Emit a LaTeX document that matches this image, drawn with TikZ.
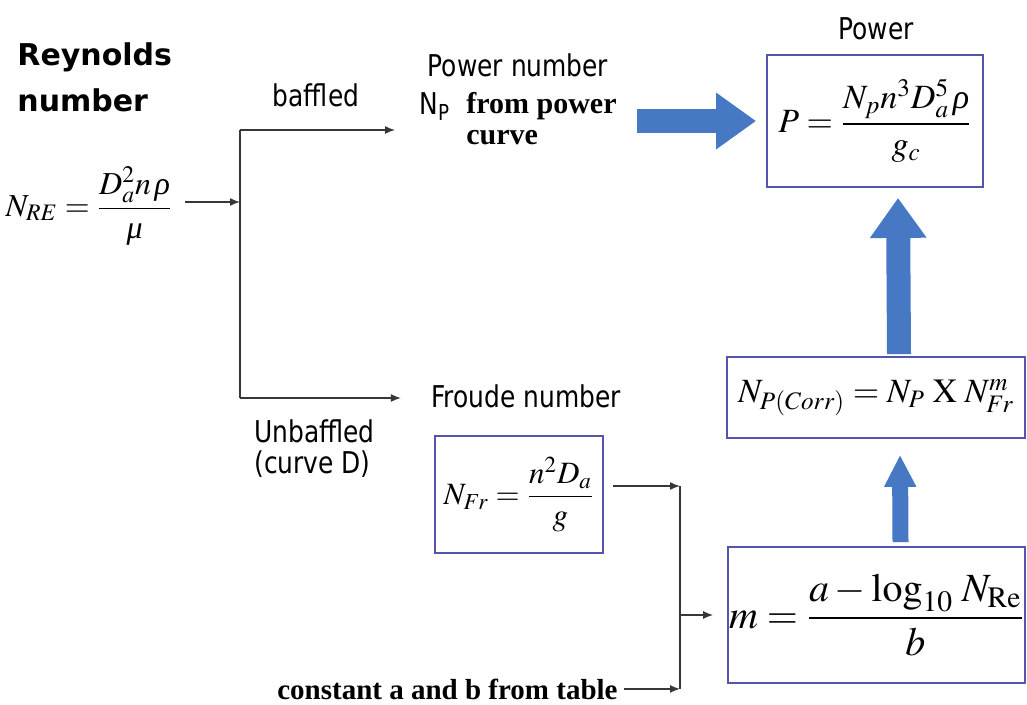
\documentclass[tikz,border=0pt]{standalone}
\usepackage{amsmath}
\usepackage{mathptmx}
\usepackage{fontspec}
\setmainfont{Liberation Serif}
\newfontfamily\labelfont{DejaVu Sans}[FakeStretch=0.83]
\newfontfamily\headfont{DejaVu Sans}
\usetikzlibrary{arrows.meta,positioning}

\newcommand{\itrho}{\,\textit{\char"03C1}}
\newcommand{\itmu}{\textit{\char"03BC}}

\definecolor{boxblue}{RGB}{85,85,175}
\definecolor{arrowblue}{RGB}{70,120,195}
\definecolor{linegray}{RGB}{55,55,55}

\tikzset{
  eqbox/.style={draw=boxblue, line width=0.9pt, inner sep=0pt},
  lbl/.style={font=\fontsize{15}{15.5}\selectfont\labelfont, inner sep=1pt, align=left},
  note/.style={font=\fontsize{15}{15.5}\selectfont\bfseries, inner sep=0pt, align=left},
  flow/.style={draw=linegray, line width=0.7pt, -{Latex[length=5pt,width=4pt]}},
  wire/.style={draw=linegray, line width=0.7pt},
  bigarrow/.style={arrowblue, line width=12pt, -{Triangle[length=20pt,width=27pt]}},
  smallarrow/.style={arrowblue, line width=8pt, -{Triangle[length=16pt,width=15pt]}}
}

\begin{document}
\begin{tikzpicture}[x=0.5pt, y=-0.5pt]
    \useasboundingbox (0,0) rectangle (1027,705);

    \node[anchor=north west, inner sep=0pt, align=left,
      font=\fontsize{15}{23}\selectfont\headfont\bfseries] (reyn) at (17,42) {Reynolds\\number};
    \node[font=\fontsize{16}{19}\selectfont, inner sep=0pt] (nre) at (89,206)
      {$N_{RE}=\dfrac{D_a^2 n\itrho}{\itmu}$};

    \coordinate (split) at (240,202);
    \coordinate (top) at (240,130);
    \coordinate (bot) at (240,398);

    \node[lbl, anchor=base] (baffled) at (316,107) {baffled};
    \node[lbl, anchor=north west] (unbaffled) at (252,417) {Unbaffled\\(curve D)};

    \node[lbl, anchor=base] (pnum) at (518,77) {Power number};
    \node[lbl, anchor=base west] (np) at (417,115)
      {N\raisebox{-0.35ex}{\fontsize{11}{11}\selectfont P}};
    \node[note, anchor=north west] (from) at (466,92) {from power\\curve};

    \node[lbl, anchor=base] (ptitle) at (876,40) {Power};
    \node[eqbox, minimum width=108pt, minimum height=66pt, font=\fontsize{17}{20}\selectfont]
      (power) at (875,121) {$P=\dfrac{N_p n^3 D_a^5\itrho}{g_c}$};

    \node[lbl, anchor=base] (froude) at (526,408) {Froude number};
    \node[eqbox, minimum width=84pt, minimum height=58.5pt, font=\fontsize{15.5}{18}\selectfont]
      (nfr) at (519,494.5) {$N_{Fr}=\dfrac{n^2 D_a}{g}$};

    \node[eqbox, minimum width=149pt, minimum height=40.5pt, font=\fontsize{17}{20}\selectfont]
      (npcorr) at (876,397.5) {$N_{P(Corr)}=N_P\;\mathrm{X}\;N_{Fr}^m$};
    \node[eqbox, minimum width=148.5pt, minimum height=68pt, font=\fontsize{20}{24}\selectfont]
      (mbox) at (876.5,615) {$m=\dfrac{a-\log_{10}\,N_{\mathrm{Re}}}{b}$};

    \node[note, anchor=base east, font=\fontsize{14.5}{16}\selectfont\bfseries] (const) at (618,699)
      {constant a and b from table};

    \coordinate (join) at (680,486);

    \draw[flow, shorten <=6pt] (nre.east |- split) -- (split);
    \draw[wire] (top) -- (bot);
    \draw[flow, shorten >=11pt] (top) -- (top -| np.west);
    \draw[flow, shorten >=14pt] (bot) -- (bot -| froude.west);
    \draw[flow, shorten <=4.5pt] (nfr.east |- join) -- (join);
    \draw[wire] (join) -- (join |- const.east);
    \draw[flow, shorten <=3pt] (const.east) -- (const.east -| join);
    \draw[flow, shorten >=7pt] (join |- mbox.west) -- (mbox.west);

    \draw[bigarrow] ([xshift=10pt]from.east |- power.west) -- ([xshift=-5pt]power.west);
    \draw[bigarrow] ([xshift=11.5pt,yshift=1pt]npcorr.north) -- ([xshift=11.5pt,yshift=-5pt]power.south);
    \draw[smallarrow] ([xshift=12pt,yshift=2pt]mbox.north) -- ([xshift=12pt,yshift=-8pt]npcorr.south);
\end{tikzpicture}
\end{document}
